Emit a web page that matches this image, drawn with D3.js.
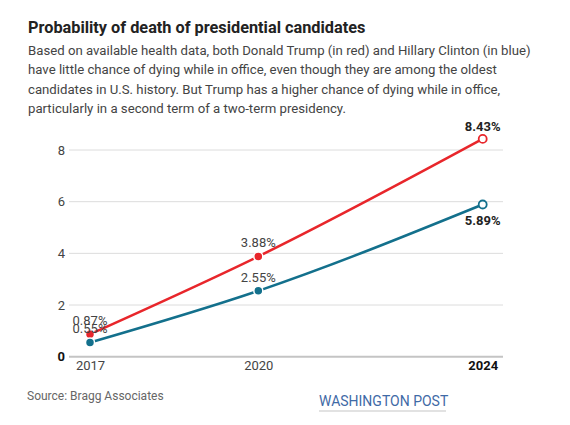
<!DOCTYPE html>
<html>
<head>
<meta charset="utf-8">
<script src="https://cdn.jsdelivr.net/npm/d3@7"></script>
<style>
  html, body { margin: 0; padding: 0; background: #fff; }
  svg { display: block; }
  text { font-family: "Roboto", "Liberation Sans", sans-serif; }
</style>
</head>
<body>
<svg id="chart" width="570" height="425"></svg>
<script>
const years = [2017, 2020, 2024];
const trumpValues = [0.87, 3.88, 8.43];
const clintonValues = [0.55, 2.55, 5.89];
const yTicks = [0, 2, 4, 6, 8];
const xTicks = [2017, 2020, 2024];

const titleText = "Probability of death of presidential candidates";
const subtitleLines = [
  "Based on available health data, both Donald Trump (in red) and Hillary Clinton (in blue)",
  "have little chance of dying while in office, even though they are among the oldest",
  "candidates in U.S. history. But Trump has a higher chance of dying while in office,",
  "particularly in a second term of a two-term presidency."
];
const sourceText = "Source: Bragg Associates";
const creditText = "WASHINGTON POST";

const RED = "#e8262b";
const BLUE = "#13708c";

const svg = d3.select("#chart");

// Title & subtitle
svg.append("text").attr("x", 28).attr("y", 33)
  .attr("font-size", 16.3).attr("font-weight", 700).attr("fill", "#222")
  .text(titleText);

svg.selectAll(".sub").data(subtitleLines).join("text")
  .attr("class", "sub")
  .attr("x", 28).attr("y", (d, i) => 55 + i * 19.3)
  .attr("font-size", 13.2).attr("fill", "#444")
  .text(d => d);

// Scales
const x = d3.scaleLinear().domain([2017, 2024]).range([90, 482.7]);
const y = d3.scaleLinear().domain([0, 8]).range([356.7, 150]);
const gridX0 = 69, gridX1 = 503;

// Grid lines
svg.append("g").selectAll("line").data(yTicks.filter(d => d !== 0)).join("line")
  .attr("x1", gridX0).attr("x2", gridX1)
  .attr("y1", d => y(d)).attr("y2", d => y(d))
  .attr("stroke", "#dcdcdc").attr("stroke-width", 1);

// Zero baseline
svg.append("line").attr("x1", gridX0).attr("x2", gridX1)
  .attr("y1", y(0)).attr("y2", y(0))
  .attr("stroke", "#c4c4c4").attr("stroke-width", 2);

// Y axis labels
const yAxis = d3.axisLeft(y).tickValues(yTicks).tickSize(0).tickPadding(0);
const gy = svg.append("g").attr("transform", `translate(65,0)`).call(yAxis);
gy.select(".domain").remove();
gy.selectAll("text")
  .attr("font-size", 13)
  .attr("font-family", "Roboto, 'Liberation Sans', sans-serif")
  .attr("font-weight", d => d === 0 ? 700 : 400)
  .attr("fill", d => d === 0 ? "#111" : "#444");

// X axis labels
const xAxis = d3.axisBottom(x).tickValues(xTicks).tickFormat(d3.format("d")).tickSize(0).tickPadding(0);
const gx = svg.append("g").attr("transform", `translate(0,361)`).call(xAxis);
gx.select(".domain").remove();
gx.selectAll("text")
  .attr("font-size", 13)
  .attr("font-family", "Roboto, 'Liberation Sans', sans-serif")
  .attr("font-weight", d => d === 2024 ? 700 : 400)
  .attr("fill", d => d === 2024 ? "#111" : "#444");

// Lines
const series = [
  { name: "Trump", values: trumpValues, color: RED },
  { name: "Clinton", values: clintonValues, color: BLUE }
];
const line = d3.line().x(d => x(d[0])).y(d => y(d[1])).curve(d3.curveMonotoneX);

series.forEach(s => {
  const pts = years.map((yr, i) => [yr, s.values[i]]);
  svg.append("path").datum(pts)
    .attr("d", line).attr("fill", "none")
    .attr("stroke", s.color).attr("stroke-width", 2.5);
});

series.forEach(s => {
  const pts = years.map((yr, i) => [yr, s.values[i]]);
  svg.append("g").selectAll("circle").data(pts).join("circle")
    .attr("cx", d => x(d[0])).attr("cy", d => y(d[1]))
    .attr("r", (d, i) => i === pts.length - 1 ? 4 : 4.5)
    .attr("fill", (d, i) => i === pts.length - 1 ? "#fff" : s.color)
    .attr("stroke", (d, i) => i === pts.length - 1 ? s.color : "#fff")
    .attr("stroke-width", (d, i) => i === pts.length - 1 ? 1.8 : 1.5);
});

// Value labels
series.forEach((s, si) => {
  const pts = years.map((yr, i) => [yr, s.values[i]]);
  svg.append("g").selectAll("text").data(pts).join("text")
    .attr("x", d => x(d[0]))
    .attr("y", (d, i) => {
      if (i === pts.length - 1) return si === 0 ? y(d[1]) - 8 : y(d[1]) + 20;
      return y(d[1]) - 9;
    })
    .attr("text-anchor", "middle")
    .attr("font-size", 13)
    .attr("font-weight", (d, i) => i === pts.length - 1 ? 700 : 400)
    .attr("fill", (d, i) => i === pts.length - 1 ? "#222" : "#444")
    .text(d => d[1].toFixed(2) + "%");
});

// Source & credit
svg.append("text").attr("x", 27).attr("y", 400)
  .attr("font-size", 12).attr("fill", "#666").text(sourceText);

svg.append("text").attr("x", 319).attr("y", 406)
  .attr("font-size", 14).attr("fill", "#3f6aa6").text(creditText);
svg.append("line").attr("x1", 319).attr("x2", 446).attr("y1", 411).attr("y2", 411)
  .attr("stroke", "#d8d8d8").attr("stroke-width", 1.5);
</script>
</body>
</html>
